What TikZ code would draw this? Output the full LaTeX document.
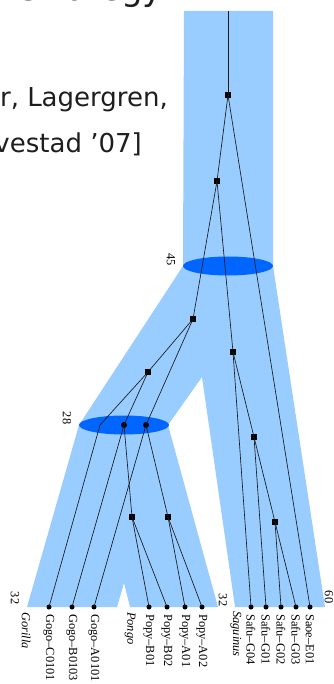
\documentclass[tikz,border=0pt]{standalone}
\usepackage{fontspec}
\setmainfont{Liberation Serif}
\newfontfamily\slidefont{DejaVu Sans}
\definecolor{spfill}{RGB}{153,204,255}
\definecolor{spell}{RGB}{0,102,255}
\definecolor{slidetext}{RGB}{30,30,30}
\begin{document}
\begin{tikzpicture}[x=1pt,y=-1pt,
  gsq/.style={draw=none,fill=black,minimum size=6.5pt,inner sep=0pt,outer sep=0pt},
  gdot/.style={circle,draw=none,fill=black,minimum size=6pt,inner sep=0pt,outer sep=0pt},
  leafdot/.style={circle,draw=none,fill=black,minimum size=5pt,inner sep=0pt,outer sep=0pt},
  gline/.style={draw=black!90,line width=0.65pt},
  leaflab/.style={rotate=-90,anchor=west,inner sep=0pt,font=\fontsize{12.4}{14}\selectfont},
  splab/.style={rotate=-90,anchor=west,inner sep=0pt,font=\fontsize{12.4}{14}\selectfont\itshape},
  numlab/.style={rotate=-90,inner sep=0pt,font=\fontsize{12.4}{14}\selectfont},
  slide/.style={inner sep=0pt,text=slidetext,anchor=base east}]
\useasboundingbox (0,0) rectangle (333,684);
\clip (0,0) rectangle (333,684);
\fill[white] (0,0) rectangle (333,684);
% slide text
\node[slide,font=\slidefont\fontsize{34}{40}\selectfont] (title) at (163,1) {strategy};
\node[slide,font=\slidefont\fontsize{26}{30}\selectfont] (ref1) at (168,107) {r, Lagergren,};
\node[slide,font=\slidefont\fontsize{26}{30}\selectfont] (ref2) at (142,153) {vestad ’07]};
% species tree
\fill[spfill] (184,11) -- (273,11) -- (273,266) -- (325,607) -- (235,607) -- (202,377)
  -- (168,425) -- (218,607) -- (130,607) -- (124,583) -- (117,607) -- (27,607)
  -- (79,425) -- (183,266) -- cycle;
\fill[spell] (228,266) ellipse [x radius=45, y radius=9.5];
\fill[spell] (124,425) ellipse [x radius=45, y radius=9.5];
\node[numlab] (n45) at (171,260) {45};
\node[numlab] (n28) at (67,418) {28};
\node[numlab] (n32a) at (15,598) {32};
\node[numlab] (n32b) at (223,600) {32};
\node[numlab] (n60) at (329,597) {60};
% gene tree nodes
\coordinate (t) at (228,11);
\node[gsq] (r) at (228,95) {};
\node[gsq] (a) at (217,181) {};
\node[gsq] (p) at (193,319) {};
\node[gsq] (q) at (148,372) {};
\coordinate (b) at (100,425);
\node[gdot] (d1) at (124,425) {};
\node[gdot] (d2) at (146,425) {};
\node[gsq] (s1) at (132,517) {};
\node[gsq] (s2) at (168,517) {};
\node[gsq] (g) at (233,352) {};
\node[gsq] (h) at (254,437) {};
\node[gsq] (k) at (275,522) {};
\node[leafdot] (GC) at (49,607) {};
\node[leafdot] (GB) at (72,607) {};
\node[leafdot] (GA) at (94,607) {};
\node[leafdot] (PB1) at (149,607) {};
\node[leafdot] (PB2) at (167,607) {};
\node[leafdot] (PA1) at (185,607) {};
\node[leafdot] (PA2) at (202,607) {};
\node[leafdot] (S4) at (251,607) {};
\node[leafdot] (S1) at (266,607) {};
\node[leafdot] (S2) at (281,607) {};
\node[leafdot] (S3) at (296,607) {};
\node[leafdot] (SE) at (310,607) {};
% gene tree edges
\draw[gline] (t) -- (r.center);
\draw[gline] (r.center) -- (a.center);
\draw[gline] (r.center) -- (SE.center);
\draw[gline] (a.center) -- (p.center);
\draw[gline] (a.center) -- (g.center);
\draw[gline] (p.center) -- (q.center);
\draw[gline] (p.center) -- (d2.center);
\draw[gline] (q.center) -- (b) -- (GC.center);
\draw[gline] (q.center) -- (d1.center);
\draw[gline] (d1.center) -- (GB.center);
\draw[gline] (d1.center) -- (s1.center);
\draw[gline] (d2.center) -- (GA.center);
\draw[gline] (d2.center) -- (s2.center);
\draw[gline] (s1.center) -- (PB1.center);
\draw[gline] (s1.center) -- (PB2.center);
\draw[gline] (s2.center) -- (PA1.center);
\draw[gline] (s2.center) -- (PA2.center);
\draw[gline] (g.center) -- (S4.center);
\draw[gline] (g.center) -- (h.center);
\draw[gline] (h.center) -- (S1.center);
\draw[gline] (h.center) -- (k.center);
\draw[gline] (k.center) -- (S2.center);
\draw[gline] (k.center) -- (S3.center);
% leaf labels
\node[splab] (lgor) at (26,612) {Gorilla};
\node[splab] (lpon) at (130,612) {Pongo};
\node[splab] (lsag) at (236,611) {Saguinus};
\node[leaflab] (tGC) at (49,614) {Gogo–C0101};
\node[leaflab] (tGB) at (72,614) {Gogo–B0103};
\node[leaflab] (tGA) at (94,614) {Gogo–A0101};
\node[leaflab] (tPB1) at (149,614) {Popy–B01};
\node[leaflab] (tPB2) at (167,614) {Popy–B02};
\node[leaflab] (tPA1) at (185,614) {Popy–A01};
\node[leaflab] (tPA2) at (202,614) {Popy–A02};
\node[leaflab] (tS4) at (251,614) {Safu–G04};
\node[leaflab] (tS1) at (266,614) {Safu–G01};
\node[leaflab] (tS2) at (281,614) {Safu–G02};
\node[leaflab] (tS3) at (296,614) {Safu–G03};
\node[leaflab] (tSE) at (310,614) {Saoe–E01};
\end{tikzpicture}
\end{document}
